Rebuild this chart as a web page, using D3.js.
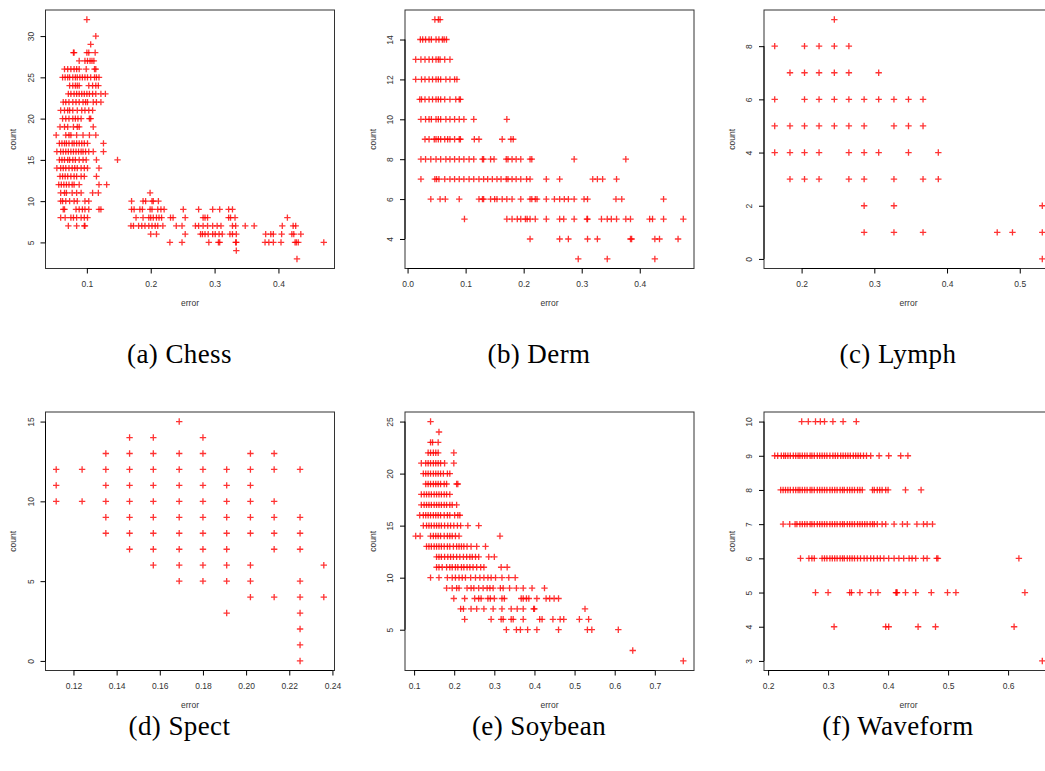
<!DOCTYPE html>
<html>
<head>
<meta charset="utf-8">
<script src="https://cdn.jsdelivr.net/npm/d3@7"></script>
<style>
  body { margin: 0; background: #fff; }
  svg { display: block; }
</style>
</head>
<body>
<script>
// each row: [count, [error values at that count]]
const chessRows = [
  [32, [0.100]],
  [30, [0.114]],
  [29, [0.106]],
  [28, [0.079, 0.080, 0.100, 0.103, 0.113]],
  [27, [0.088, 0.097, 0.101, 0.105, 0.108, 0.111]],
  [26, [0.065, 0.070, 0.075, 0.080, 0.084, 0.088, 0.099, 0.112, 0.114]],
  [25, [0.062, 0.066, 0.070, 0.073, 0.078, 0.082, 0.085, 0.089, 0.093, 0.097, 0.101, 0.106, 0.112, 0.115, 0.119]],
  [24, [0.073, 0.078, 0.082, 0.085, 0.088, 0.103, 0.109, 0.114, 0.118]],
  [23, [0.071, 0.075, 0.080, 0.084, 0.088, 0.092, 0.096, 0.100, 0.104, 0.109, 0.114, 0.122, 0.129]],
  [22, [0.063, 0.067, 0.072, 0.078, 0.083, 0.088, 0.094, 0.098, 0.101, 0.110, 0.115, 0.122]],
  [21, [0.059, 0.065, 0.070, 0.073, 0.078, 0.085, 0.092, 0.097, 0.103, 0.109]],
  [20, [0.062, 0.067, 0.072, 0.078, 0.082, 0.086, 0.091, 0.104, 0.106]],
  [19, [0.058, 0.065, 0.070, 0.079, 0.085, 0.088, 0.110]],
  [18, [0.052, 0.067, 0.072, 0.075, 0.084, 0.094, 0.104, 0.114]],
  [17, [0.057, 0.061, 0.065, 0.068, 0.072, 0.077, 0.080, 0.084, 0.088, 0.092, 0.096, 0.101, 0.126]],
  [16, [0.053, 0.059, 0.063, 0.067, 0.071, 0.075, 0.079, 0.083, 0.087, 0.091, 0.094, 0.098, 0.103, 0.110, 0.126]],
  [15, [0.057, 0.061, 0.065, 0.070, 0.073, 0.078, 0.082, 0.088, 0.094, 0.099, 0.115, 0.148]],
  [14, [0.053, 0.059, 0.063, 0.067, 0.072, 0.077, 0.081, 0.085, 0.091, 0.096, 0.101, 0.119]],
  [13, [0.058, 0.062, 0.066, 0.070, 0.075, 0.080, 0.084, 0.091, 0.096, 0.115]],
  [12, [0.056, 0.060, 0.064, 0.068, 0.072, 0.077, 0.080, 0.088, 0.119, 0.131]],
  [11, [0.059, 0.065, 0.068, 0.077, 0.084, 0.091, 0.109, 0.118, 0.199]],
  [10, [0.059, 0.062, 0.067, 0.073, 0.080, 0.085, 0.097, 0.103, 0.170, 0.188, 0.192, 0.202, 0.204, 0.212]],
  [9, [0.063, 0.065, 0.083, 0.088, 0.093, 0.097, 0.103, 0.119, 0.122, 0.170, 0.174, 0.183, 0.187, 0.199, 0.202,
       0.211, 0.216, 0.221, 0.251, 0.275, 0.297, 0.308, 0.322, 0.328]],
  [8, [0.059, 0.066, 0.075, 0.079, 0.084, 0.091, 0.096, 0.101, 0.177, 0.188, 0.197, 0.200, 0.204, 0.209, 0.213,
       0.217, 0.231, 0.235, 0.254, 0.282, 0.285, 0.289, 0.322, 0.325, 0.332, 0.414]],
  [7, [0.071, 0.084, 0.096, 0.097, 0.169, 0.173, 0.181, 0.186, 0.191, 0.197, 0.202, 0.207, 0.211, 0.219, 0.240,
       0.249, 0.270, 0.275, 0.282, 0.289, 0.297, 0.304, 0.310, 0.328, 0.333, 0.348, 0.362, 0.406, 0.423, 0.427]],
  [6, [0.200, 0.209, 0.254, 0.278, 0.281, 0.285, 0.290, 0.297, 0.301, 0.307, 0.312, 0.324, 0.328, 0.334, 0.380,
       0.388, 0.392, 0.405, 0.421, 0.424, 0.435]],
  [5, [0.230, 0.249, 0.291, 0.306, 0.308, 0.333, 0.334, 0.379, 0.385, 0.392, 0.404, 0.426, 0.428, 0.431, 0.471]],
  [4, [0.334]],
  [3, [0.429]]
];

const dermRows = [
  [15, [0.047, 0.053, 0.056]],
  [14, [0.022, 0.026, 0.031, 0.037, 0.041, 0.049, 0.054, 0.060, 0.063, 0.067]],
  [13, [0.014, 0.023, 0.030, 0.037, 0.043, 0.049, 0.053, 0.056, 0.064, 0.073]],
  [12, [0.014, 0.024, 0.030, 0.037, 0.043, 0.049, 0.053, 0.057, 0.066, 0.073, 0.081, 0.085]],
  [11, [0.021, 0.024, 0.030, 0.037, 0.043, 0.049, 0.053, 0.057, 0.064, 0.073, 0.083, 0.089, 0.091]],
  [10, [0.023, 0.031, 0.037, 0.041, 0.049, 0.053, 0.057, 0.066, 0.073, 0.081, 0.089, 0.097, 0.114, 0.171]],
  [9, [0.030, 0.037, 0.046, 0.049, 0.053, 0.057, 0.064, 0.069, 0.073, 0.081, 0.089, 0.091, 0.115, 0.123, 0.163,
       0.178, 0.182]],
  [8, [0.023, 0.031, 0.040, 0.049, 0.057, 0.066, 0.073, 0.081, 0.089, 0.097, 0.106, 0.114, 0.129, 0.131, 0.143,
       0.149, 0.170, 0.173, 0.180, 0.187, 0.195, 0.211, 0.214, 0.287, 0.376]],
  [7, [0.023, 0.047, 0.050, 0.054, 0.064, 0.073, 0.081, 0.089, 0.097, 0.106, 0.114, 0.123, 0.131, 0.138, 0.146,
       0.154, 0.161, 0.170, 0.173, 0.180, 0.187, 0.195, 0.205, 0.211, 0.239, 0.262, 0.319, 0.327, 0.336, 0.360]],
  [6, [0.040, 0.056, 0.065, 0.089, 0.123, 0.129, 0.131, 0.143, 0.150, 0.154, 0.163, 0.171, 0.180, 0.195, 0.211,
       0.214, 0.220, 0.223, 0.239, 0.253, 0.262, 0.270, 0.277, 0.287, 0.304, 0.310, 0.359, 0.369, 0.441]],
  [5, [0.098, 0.171, 0.180, 0.189, 0.195, 0.203, 0.206, 0.211, 0.220, 0.239, 0.262, 0.269, 0.287, 0.309, 0.310,
       0.334, 0.344, 0.351, 0.360, 0.376, 0.384, 0.417, 0.422, 0.441, 0.475]],
  [4, [0.211, 0.262, 0.277, 0.310, 0.327, 0.384, 0.386, 0.426, 0.434, 0.466]],
  [3, [0.294, 0.344, 0.426]]
];

const lymphRows = [
  [9, [0.245]],
  [8, [0.163, 0.204, 0.224, 0.245, 0.265]],
  [7, [0.184, 0.204, 0.224, 0.245, 0.265, 0.306]],
  [6, [0.163, 0.204, 0.224, 0.245, 0.265, 0.286, 0.306, 0.327, 0.347, 0.367]],
  [5, [0.163, 0.184, 0.204, 0.224, 0.245, 0.265, 0.286, 0.327, 0.347, 0.367]],
  [4, [0.163, 0.184, 0.204, 0.224, 0.265, 0.286, 0.306, 0.347, 0.388]],
  [3, [0.184, 0.204, 0.224, 0.265, 0.286, 0.327, 0.367, 0.388]],
  [2, [0.286, 0.327, 0.531]],
  [1, [0.286, 0.327, 0.367, 0.469, 0.490, 0.531]],
  [0, [0.531]]
];

const spectRows = [
  [15, [0.169]],
  [14, [0.146, 0.157, 0.180]],
  [13, [0.135, 0.146, 0.157, 0.169, 0.180, 0.202, 0.213]],
  [12, [0.112, 0.124, 0.135, 0.146, 0.157, 0.169, 0.180, 0.191, 0.202, 0.213, 0.225]],
  [11, [0.112, 0.135, 0.146, 0.157, 0.169, 0.180, 0.191, 0.202]],
  [10, [0.112, 0.124, 0.135, 0.146, 0.157, 0.169, 0.180, 0.191, 0.202, 0.213]],
  [9, [0.135, 0.146, 0.157, 0.169, 0.180, 0.191, 0.202, 0.213, 0.225]],
  [8, [0.135, 0.146, 0.157, 0.169, 0.180, 0.191, 0.202, 0.213, 0.225]],
  [7, [0.146, 0.157, 0.169, 0.180, 0.191, 0.213, 0.225]],
  [6, [0.157, 0.169, 0.180, 0.191, 0.202, 0.236]],
  [5, [0.169, 0.180, 0.191, 0.202, 0.225]],
  [4, [0.202, 0.213, 0.225, 0.236]],
  [3, [0.191, 0.225]],
  [2, [0.225]],
  [1, [0.225]],
  [0, [0.225]]
];

const soybeanRows = [
  [25, [0.141]],
  [24, [0.162]],
  [23, [0.141, 0.146, 0.160]],
  [22, [0.135, 0.141, 0.148, 0.154, 0.160, 0.199]],
  [21, [0.118, 0.129, 0.135, 0.141, 0.148, 0.154, 0.160, 0.166, 0.176, 0.199]],
  [20, [0.123, 0.129, 0.135, 0.141, 0.148, 0.154, 0.160, 0.166, 0.173, 0.183, 0.189]],
  [19, [0.129, 0.135, 0.141, 0.148, 0.154, 0.160, 0.166, 0.175, 0.181, 0.206, 0.209]],
  [18, [0.118, 0.125, 0.131, 0.137, 0.143, 0.150, 0.156, 0.162, 0.168, 0.175, 0.181, 0.189]],
  [17, [0.118, 0.125, 0.131, 0.137, 0.143, 0.150, 0.156, 0.162, 0.168, 0.175, 0.181, 0.189, 0.195, 0.206]],
  [16, [0.114, 0.123, 0.129, 0.135, 0.141, 0.148, 0.154, 0.160, 0.166, 0.175, 0.183, 0.189, 0.201, 0.209, 0.214]],
  [15, [0.123, 0.131, 0.137, 0.143, 0.150, 0.156, 0.162, 0.168, 0.176, 0.184, 0.191, 0.199, 0.208, 0.216, 0.234, 0.261]],
  [14, [0.104, 0.115, 0.141, 0.148, 0.154, 0.160, 0.166, 0.175, 0.183, 0.189, 0.195, 0.203, 0.212, 0.314]],
  [13, [0.131, 0.137, 0.143, 0.150, 0.156, 0.162, 0.168, 0.175, 0.183, 0.189, 0.198, 0.206, 0.212, 0.218, 0.224,
        0.232, 0.242, 0.256, 0.278]],
  [12, [0.156, 0.162, 0.168, 0.176, 0.184, 0.191, 0.198, 0.206, 0.214, 0.223, 0.231, 0.239, 0.245, 0.253, 0.261,
        0.286, 0.300]],
  [11, [0.156, 0.162, 0.170, 0.181, 0.189, 0.195, 0.203, 0.209, 0.218, 0.224, 0.232, 0.239, 0.247, 0.256, 0.266,
        0.274, 0.317, 0.332]],
  [10, [0.141, 0.162, 0.183, 0.195, 0.203, 0.212, 0.220, 0.228, 0.241, 0.253, 0.264, 0.274, 0.284, 0.292, 0.303,
        0.319, 0.336, 0.352]],
  [9, [0.181, 0.195, 0.206, 0.212, 0.232, 0.242, 0.249, 0.261, 0.272, 0.282, 0.289, 0.297, 0.315, 0.322, 0.338,
       0.355, 0.372, 0.394, 0.425]],
  [8, [0.199, 0.226, 0.251, 0.261, 0.267, 0.284, 0.290, 0.300, 0.319, 0.325, 0.367, 0.372, 0.380, 0.386, 0.406,
       0.429, 0.438, 0.449, 0.460]],
  [7, [0.216, 0.223, 0.242, 0.256, 0.274, 0.297, 0.319, 0.342, 0.357, 0.372, 0.398, 0.400, 0.526]],
  [6, [0.226, 0.292, 0.317, 0.322, 0.342, 0.347, 0.372, 0.413, 0.419, 0.446, 0.464, 0.473, 0.512, 0.535]],
  [5, [0.330, 0.355, 0.365, 0.383, 0.406, 0.460, 0.532, 0.543, 0.609]],
  [3, [0.645]],
  [2, [0.771]]
];

const waveformRows = [
  [10, [0.256, 0.267, 0.279, 0.287, 0.294, 0.308, 0.325, 0.347]],
  [9, [0.211, 0.216, 0.222, 0.226, 0.229, 0.233, 0.237, 0.242, 0.246, 0.250, 0.253, 0.257, 0.261, 0.265, 0.270,
       0.273, 0.277, 0.282, 0.286, 0.290, 0.294, 0.298, 0.303, 0.308, 0.312, 0.316, 0.321, 0.325, 0.329, 0.333,
       0.337, 0.342, 0.346, 0.350, 0.354, 0.359, 0.364, 0.371, 0.385, 0.401, 0.421, 0.433]],
  [8, [0.221, 0.225, 0.229, 0.233, 0.237, 0.242, 0.246, 0.250, 0.253, 0.257, 0.261, 0.265, 0.270, 0.273, 0.277,
       0.282, 0.286, 0.290, 0.294, 0.298, 0.303, 0.307, 0.311, 0.315, 0.320, 0.324, 0.327, 0.332, 0.336, 0.340,
       0.344, 0.349, 0.353, 0.357, 0.374, 0.377, 0.382, 0.386, 0.390, 0.396, 0.400, 0.429, 0.455]],
  [7, [0.225, 0.236, 0.245, 0.248, 0.253, 0.257, 0.261, 0.265, 0.270, 0.273, 0.277, 0.282, 0.286, 0.290, 0.294,
       0.298, 0.303, 0.307, 0.311, 0.315, 0.320, 0.324, 0.327, 0.332, 0.336, 0.340, 0.344, 0.349, 0.353, 0.357,
       0.361, 0.365, 0.370, 0.374, 0.377, 0.382, 0.390, 0.396, 0.410, 0.424, 0.432, 0.448, 0.459, 0.465, 0.474]],
  [6, [0.254, 0.268, 0.273, 0.277, 0.290, 0.294, 0.298, 0.303, 0.307, 0.311, 0.315, 0.320, 0.324, 0.327, 0.332,
       0.336, 0.340, 0.344, 0.349, 0.354, 0.360, 0.365, 0.371, 0.376, 0.382, 0.387, 0.393, 0.401, 0.410, 0.418,
       0.426, 0.435, 0.440, 0.446, 0.459, 0.465, 0.481, 0.483, 0.618]],
  [5, [0.279, 0.300, 0.336, 0.339, 0.353, 0.371, 0.383, 0.413, 0.414, 0.415, 0.429, 0.446, 0.472, 0.499, 0.513, 0.628]],
  [4, [0.310, 0.396, 0.401, 0.450, 0.479, 0.610]],
  [3, [0.657]]
];

// tick labels (strings as printed)
const chessXTicks = ["0.1", "0.2", "0.3", "0.4"];
const chessYTicks = ["5", "10", "15", "20", "25", "30"];
const dermXTicks = ["0.0", "0.1", "0.2", "0.3", "0.4"];
const dermYTicks = ["4", "6", "8", "10", "12", "14"];
const lymphXTicks = ["0.2", "0.3", "0.4", "0.5"];
const lymphYTicks = ["0", "2", "4", "6", "8"];
const spectXTicks = ["0.12", "0.14", "0.16", "0.18", "0.20", "0.22", "0.24"];
const spectYTicks = ["0", "5", "10", "15"];
const soybeanXTicks = ["0.1", "0.2", "0.3", "0.4", "0.5", "0.6", "0.7"];
const soybeanYTicks = ["5", "10", "15", "20", "25"];
const waveformXTicks = ["0.2", "0.3", "0.4", "0.5", "0.6"];
const waveformYTicks = ["3", "4", "5", "6", "7", "8", "9", "10"];

const captions = ["(a) Chess", "(b) Derm", "(c) Lymph", "(d) Spect", "(e) Soybean", "(f) Waveform"];

const panels = [
  { rows: chessRows, xt: chessXTicks, yt: chessYTicks },
  { rows: dermRows, xt: dermXTicks, yt: dermYTicks },
  { rows: lymphRows, xt: lymphXTicks, yt: lymphYTicks },
  { rows: spectRows, xt: spectXTicks, yt: spectYTicks },
  { rows: soybeanRows, xt: soybeanXTicks, yt: soybeanYTicks },
  { rows: waveformRows, xt: waveformXTicks, yt: waveformYTicks }
];

const W = 1045, H = 771;
const colLeft = [45.5, 405, 764], rowTop = [10, 412];
const pw = 289, ph = 258.5;
const captionY = [363, 735];
const tickFont = "Liberation Sans, Arial, sans-serif";

const svg = d3.select("body").append("svg")
  .attr("width", W).attr("height", H)
  .attr("viewBox", `0 0 ${W} ${H}`);

// R style: stretch the data range by 4% on each side
const pad = ext => { const d = (ext[1] - ext[0]) * 0.04; return [ext[0] - d, ext[1] + d]; };

panels.forEach((p, i) => {
  const x0 = colLeft[i % 3], y0 = rowTop[Math.floor(i / 3)];
  const pts = p.rows.flatMap(([c, errs]) => errs.map(e => [e, c]));

  const x = d3.scaleLinear().domain(pad(d3.extent(pts, d => d[0]))).range([x0, x0 + pw]);
  const y = d3.scaleLinear().domain(pad(d3.extent(pts, d => d[1]))).range([y0 + ph, y0]);

  const g = svg.append("g");

  // points: "+" glyphs
  g.append("g").selectAll("path")
    .data(pts)
    .enter().append("path")
    .attr("d", d => {
      const px = x(d[0]), py = y(d[1]);
      return `M${px - 3.2},${py}H${px + 3.2}M${px},${py - 3.2}V${py + 3.2}`;
    })
    .attr("stroke", "#ff0000")
    .attr("stroke-opacity", 0.8)
    .attr("stroke-width", 1.3)
    .attr("fill", "none");

  // frame
  g.append("rect")
    .attr("x", x0).attr("y", y0).attr("width", pw).attr("height", ph)
    .attr("fill", "none").attr("stroke", "#333").attr("stroke-width", 1);

  const xv = p.xt.map(Number), yv = p.yt.map(Number);

  // x axis
  const xa = g.append("g")
    .attr("transform", `translate(0,${y0 + ph})`)
    .call(d3.axisBottom(x).tickValues(xv).tickFormat((d, k) => p.xt[k]).tickSize(5).tickPadding(7));
  xa.select(".domain").remove();
  xa.append("line")
    .attr("x1", x(xv[0])).attr("x2", x(xv[xv.length - 1]))
    .attr("stroke", "#000");
  xa.selectAll("line").attr("stroke", "#000");
  xa.selectAll("text").attr("fill", "#333").style("font", `8.5px ${tickFont}`);

  // y axis (labels turned like in R)
  const ya = g.append("g")
    .attr("transform", `translate(${x0},0)`)
    .call(d3.axisLeft(y).tickValues(yv).tickFormat((d, k) => p.yt[k]).tickSize(5));
  ya.select(".domain").remove();
  ya.append("line")
    .attr("y1", y(yv[0])).attr("y2", y(yv[yv.length - 1]))
    .attr("stroke", "#000");
  ya.selectAll("line").attr("stroke", "#000");
  ya.selectAll("text")
    .attr("x", 0).attr("dy", null)
    .attr("text-anchor", "middle")
    .attr("transform", "translate(-11.7,0) rotate(-90)")
    .attr("fill", "#333")
    .style("font", `8.5px ${tickFont}`);

  // axis titles
  g.append("text")
    .attr("x", x0 + pw / 2).attr("y", y0 + ph + 37)
    .attr("text-anchor", "middle").attr("fill", "#333")
    .style("font", `8.5px ${tickFont}`)
    .text("error");
  g.append("text")
    .attr("transform", `translate(${x0 - 29.5},${y0 + ph / 2}) rotate(-90)`)
    .attr("text-anchor", "middle").attr("fill", "#333")
    .style("font", `8.5px ${tickFont}`)
    .text("count");

  // caption
  svg.append("text")
    .attr("x", x0 + pw / 2 - 10.5).attr("y", captionY[Math.floor(i / 3)])
    .attr("text-anchor", "middle").attr("fill", "#000")
    .style("font", "27px 'Liberation Serif', 'Times New Roman', serif")
    .style("letter-spacing", "0.4px")
    .text(captions[i]);
});
</script>
</body>
</html>
